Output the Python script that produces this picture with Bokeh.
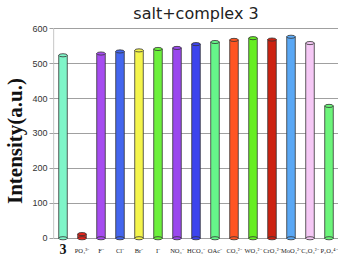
from bokeh.plotting import figure
from bokeh.models import Range1d, LabelSet, ColumnDataSource
from bokeh.embed import file_html
from bokeh.resources import INLINE

categories = ["3", "PO₄³⁻", "F⁻", "Cl⁻", "Br⁻", "I⁻", "NO₃⁻", "HCO₃⁻", "OAc⁻",
              "CO₃²⁻", "WO₄²⁻", "CrO₄²⁻", "MoO₄²⁻", "C₂O₄²⁻", "P₂O₇⁴⁻"]
intensity = [524, 12, 529, 535, 538, 542, 545, 556, 562, 568, 573, 569, 577, 559, 379]
colors = ["#7ff5c8", "#e8241c", "#a64cf0", "#4466ee", "#f4f44c", "#6cf03c", "#9a48ee",
          "#3c44ee", "#66f58a", "#ff5522", "#66ee22", "#cc2211", "#5aa8f5", "#f5c8f5", "#6cf57a"]
y_ticks = [0, 100, 200, 300, 400, 500, 600]

pos = list(range(len(categories)))
src = ColumnDataSource(dict(x=pos, top=intensity, color=colors))
first_src = ColumnDataSource(dict(x=pos[:1], y=[0], t=categories[:1]))
rest_src = ColumnDataSource(dict(x=pos[1:], y=[0] * (len(pos) - 1), t=categories[1:]))

x_start, x_end = -0.5, len(categories) - 0.5
p = figure(width=338, height=258, x_range=Range1d(x_start, x_end),
           y_range=Range1d(-58, 615), output_backend="svg", toolbar_location=None,
           title="salt+complex 3", min_border=0, min_border_left=0, min_border_right=0,
           min_border_top=0, min_border_bottom=0)

p.title.align = "center"
p.title.text_font = "DejaVu Sans"
p.title.text_font_style = "normal"
p.title.text_font_size = "16px"
p.title.text_color = "#222222"
p.title.offset = 0
p.title.standoff = 2

p.outline_line_color = None
p.xgrid.grid_line_color = None
p.ygrid.ticker = y_ticks
p.ygrid.grid_line_color = "#a0a0a0"
p.ygrid.grid_line_width = 1.2
p.xaxis.visible = False

p.yaxis.ticker = y_ticks
p.yaxis.axis_label = "Intensity(a.u.)"
p.yaxis.axis_label_text_font = "Liberation Serif"
p.yaxis.axis_label_text_font_style = "bold"
p.yaxis.axis_label_text_font_size = "21px"
p.yaxis.axis_label_text_color = "#111111"
p.yaxis.axis_label_standoff = 2
p.yaxis.major_label_text_font = "Liberation Sans"
p.yaxis.major_label_text_font_size = "9px"
p.yaxis.major_label_text_color = "#333333"
p.yaxis.major_label_standoff = 2
p.yaxis.axis_line_color = None
p.yaxis.major_tick_line_color = "#a0a0a0"
p.yaxis.major_tick_out = 4
p.yaxis.major_tick_in = 0
p.yaxis.minor_tick_line_color = None

# left wall line from floor to top gridline
p.segment(x0=[x_start], y0=[y_ticks[0]], x1=[x_start], y1=[y_ticks[-1]],
          line_color="#a0a0a0", line_width=1.2)

p.vbar(x="x", top="top", width=0.45, fill_color="color", line_color="#333333",
       line_width=0.8, source=src)
p.ellipse(x="x", y="top", width=0.45, height=9, fill_color="color", line_color="#333333",
          line_width=0.8, source=src)
p.ellipse(x="x", y=0, width=0.45, height=9, fill_color="color", line_color="#333333",
          line_width=0.8, source=src)

p.add_layout(LabelSet(x="x", y="y", text="t", source=first_src, y_offset=-6,
                      text_baseline="top", text_font="Liberation Serif",
                      text_font_style="bold", text_font_size="14px",
                      text_align="center", text_color="#111111"))
p.add_layout(LabelSet(x="x", y="y", text="t", source=rest_src, y_offset=-9,
                      text_baseline="top", text_font="Liberation Sans",
                      text_font_size="6.5px", text_align="center", text_color="#222222"))

open("out.html", "w").write(file_html(p, INLINE))
